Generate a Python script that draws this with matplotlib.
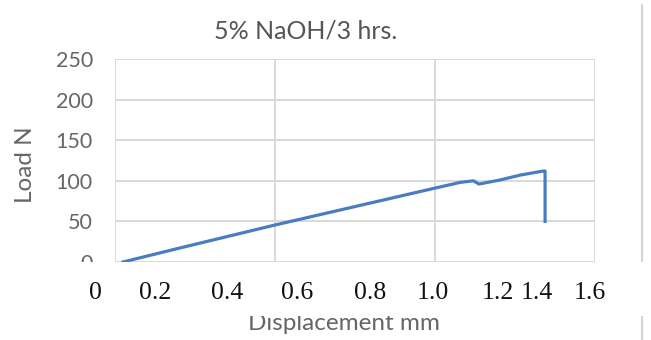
import matplotlib.pyplot as plt
from matplotlib.patches import Rectangle
from matplotlib.lines import Line2D
import matplotlib.transforms as mtransforms

# displacement (mm) and load (N)
disp = [0.025, 0.2, 0.494, 0.89, 1.0, 1.078, 1.12, 1.1375, 1.203, 1.266, 1.3375, 1.344, 1.344]
load = [0, 17, 45, 81, 91, 98, 100, 96, 101, 107, 112, 112, 50]

yticks = [0, 50, 100, 150, 200, 250]
xgrid = [0, 0.5, 1.0, 1.5]
# the printed x labels pasted under the chart
xlabels = ["0", "0.2", "0.4", "0.6", "0.8", "1.0", "1.2", "1.4", "1.6"]
xlabel_at = [-0.0625, 0.125, 0.35, 0.569, 0.797, 0.994, 1.197, 1.319, 1.484]

gray = "#666666"
fig = plt.figure(figsize=(6.51, 3.40), dpi=100)
ax = fig.add_axes([115 / 651, 1 - 262 / 340, 480 / 651, 203 / 340])

ax.plot(disp, load, color="#4a7cc0", lw=2.3, solid_joinstyle="round")
ax.set_xlim(0, 1.5)
ax.set_ylim(0, 250)
ax.set_xticks(xgrid)
ax.set_xticklabels([])
ax.set_yticks(yticks)
ax.set_yticklabels([str(v) for v in yticks], family="Lato", fontsize=15.5, color=gray)
ax.tick_params(length=0, pad=16)
ax.grid(True, color="#d9d9d9", lw=1.4)
ax.set_axisbelow(True)
for s in ax.spines.values():
    s.set_visible(False)

fig.text(306 / 651, 1 - 31 / 340, "5% NaOH/3 hrs.", ha="center", va="center",
         family="Lato", fontsize=18, color="#555555")
fig.text(25 / 651, 1 - 165 / 340, "Load N", rotation=90, ha="center", va="center",
         family="Lato", fontsize=17.5, color=gray)
fig.text(344 / 651, 1 - 323 / 340, "Displacement mm", ha="center", va="center",
         family="Lato", fontsize=17.5, color=gray, zorder=1)

# outer chart border on the right
fig.add_artist(Line2D([642 / 651, 642 / 651], [0, 1 - 5 / 340], color="#d3d3d3", lw=1.5, zorder=2))

# white strip covering the original axis labels
fig.add_artist(Rectangle((0, 1 - 316 / 340), 1, (316 - 262) / 340, transform=fig.transFigure,
                         facecolor="white", edgecolor="none", zorder=5))

trans = mtransforms.blended_transform_factory(ax.transData, fig.transFigure)
for pos, lab in zip(xlabel_at, xlabels):
    fig.text(pos, 1 - 293 / 340, lab, transform=trans, ha="center", va="center",
             family="Liberation Serif", fontsize=18.5, color="#111111", zorder=6)

plt.savefig("out.png", dpi=100)
